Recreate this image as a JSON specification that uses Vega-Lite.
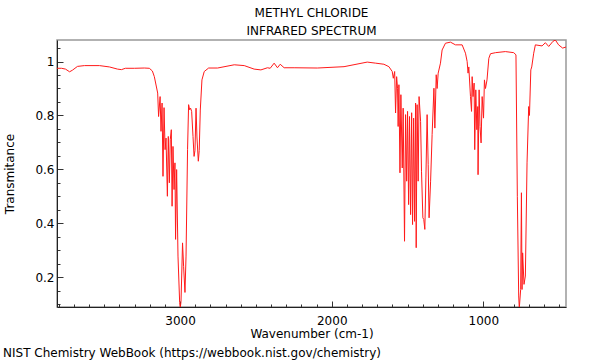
{
  "$schema": "https://vega.github.io/schema/vega-lite/v6.json",
  "width": 509,
  "height": 267,
  "autosize": {"type": "none"},
  "padding": {"left": 57, "top": 40, "right": 34, "bottom": 53},
  "background": "white",
  "config": {
    "font": "DejaVu Sans",
    "view": {"stroke": "#999999", "strokeWidth": 1.5}
  },
  "title": {
    "text": ["METHYL CHLORIDE", "INFRARED SPECTRUM"],
    "fontSize": 12,
    "fontWeight": "normal",
    "color": "black",
    "lineHeight": 18,
    "offset": 2,
    "anchor": "middle"
  },
  "layer": [
    {
      "data": {
        "values": [
          {"w": 3815, "t": 0.975}, {"w": 3782, "t": 0.975}, {"w": 3756, "t": 0.972}, {"w": 3729, "t": 0.962},
          {"w": 3710, "t": 0.968}, {"w": 3677, "t": 0.982}, {"w": 3631, "t": 0.985}, {"w": 3532, "t": 0.985},
          {"w": 3466, "t": 0.98}, {"w": 3413, "t": 0.972}, {"w": 3387, "t": 0.97}, {"w": 3361, "t": 0.975},
          {"w": 3301, "t": 0.975}, {"w": 3236, "t": 0.976}, {"w": 3203, "t": 0.975}, {"w": 3183, "t": 0.965},
          {"w": 3170, "t": 0.944}, {"w": 3148, "t": 0.883}, {"w": 3142, "t": 0.796}, {"w": 3132, "t": 0.87},
          {"w": 3126, "t": 0.741}, {"w": 3119, "t": 0.846}, {"w": 3113, "t": 0.574}, {"w": 3106, "t": 0.829},
          {"w": 3099, "t": 0.673}, {"w": 3093, "t": 0.716}, {"w": 3084, "t": 0.5}, {"w": 3078, "t": 0.722},
          {"w": 3071, "t": 0.55}, {"w": 3065, "t": 0.71}, {"w": 3058, "t": 0.747}, {"w": 3053, "t": 0.463},
          {"w": 3047, "t": 0.685}, {"w": 3040, "t": 0.525}, {"w": 3034, "t": 0.624}, {"w": 3030, "t": 0.34},
          {"w": 3023, "t": 0.599}, {"w": 3014, "t": 0.278}, {"w": 3003, "t": 0.105}, {"w": 2999, "t": 0.085},
          {"w": 2994, "t": 0.11}, {"w": 2984, "t": 0.327}, {"w": 2977, "t": 0.24}, {"w": 2968, "t": 0.143},
          {"w": 2961, "t": 0.278}, {"w": 2951, "t": 0.673}, {"w": 2944, "t": 0.84}, {"w": 2937, "t": 0.821},
          {"w": 2931, "t": 0.827}, {"w": 2924, "t": 0.815}, {"w": 2915, "t": 0.722}, {"w": 2908, "t": 0.648},
          {"w": 2902, "t": 0.67}, {"w": 2895, "t": 0.827}, {"w": 2889, "t": 0.72}, {"w": 2880, "t": 0.63},
          {"w": 2874, "t": 0.67}, {"w": 2867, "t": 0.82}, {"w": 2856, "t": 0.932}, {"w": 2841, "t": 0.963},
          {"w": 2812, "t": 0.976}, {"w": 2753, "t": 0.976}, {"w": 2643, "t": 0.988}, {"w": 2577, "t": 0.985},
          {"w": 2512, "t": 0.972}, {"w": 2467, "t": 0.969}, {"w": 2424, "t": 0.977}, {"w": 2406, "t": 0.975},
          {"w": 2380, "t": 0.994}, {"w": 2358, "t": 0.977}, {"w": 2340, "t": 0.99}, {"w": 2314, "t": 0.977},
          {"w": 2248, "t": 0.977}, {"w": 2095, "t": 0.976}, {"w": 1919, "t": 0.981}, {"w": 1766, "t": 0.998},
          {"w": 1710, "t": 0.994}, {"w": 1656, "t": 0.99}, {"w": 1623, "t": 0.981}, {"w": 1601, "t": 0.963},
          {"w": 1594, "t": 0.938}, {"w": 1585, "t": 0.963}, {"w": 1579, "t": 0.809}, {"w": 1572, "t": 0.944},
          {"w": 1566, "t": 0.901}, {"w": 1562, "t": 0.759}, {"w": 1557, "t": 0.914}, {"w": 1550, "t": 0.587},
          {"w": 1544, "t": 0.877}, {"w": 1535, "t": 0.605}, {"w": 1529, "t": 0.827}, {"w": 1520, "t": 0.333},
          {"w": 1513, "t": 0.803}, {"w": 1506, "t": 0.556}, {"w": 1500, "t": 0.815}, {"w": 1493, "t": 0.469},
          {"w": 1487, "t": 0.796}, {"w": 1480, "t": 0.432}, {"w": 1473, "t": 0.81}, {"w": 1467, "t": 0.395},
          {"w": 1460, "t": 0.79}, {"w": 1454, "t": 0.407}, {"w": 1447, "t": 0.846}, {"w": 1443, "t": 0.309},
          {"w": 1437, "t": 0.84}, {"w": 1430, "t": 0.556}, {"w": 1424, "t": 0.87}, {"w": 1414, "t": 0.778},
          {"w": 1408, "t": 0.593}, {"w": 1399, "t": 0.42}, {"w": 1393, "t": 0.414}, {"w": 1386, "t": 0.377},
          {"w": 1379, "t": 0.568}, {"w": 1371, "t": 0.803}, {"w": 1364, "t": 0.617}, {"w": 1358, "t": 0.42},
          {"w": 1348, "t": 0.556}, {"w": 1338, "t": 0.729}, {"w": 1326, "t": 0.901}, {"w": 1320, "t": 0.753},
          {"w": 1311, "t": 0.951}, {"w": 1305, "t": 0.9}, {"w": 1298, "t": 0.957}, {"w": 1283, "t": 0.994},
          {"w": 1272, "t": 1.043}, {"w": 1250, "t": 1.068}, {"w": 1217, "t": 1.072}, {"w": 1184, "t": 1.062},
          {"w": 1140, "t": 1.062}, {"w": 1118, "t": 1.031}, {"w": 1107, "t": 1.0}, {"w": 1101, "t": 0.957},
          {"w": 1096, "t": 0.98}, {"w": 1085, "t": 0.87}, {"w": 1078, "t": 0.815}, {"w": 1074, "t": 0.944},
          {"w": 1068, "t": 0.87}, {"w": 1061, "t": 0.92}, {"w": 1057, "t": 0.673}, {"w": 1050, "t": 0.895},
          {"w": 1043, "t": 0.747}, {"w": 1037, "t": 0.833}, {"w": 1035, "t": 0.58}, {"w": 1028, "t": 0.895},
          {"w": 1022, "t": 0.759}, {"w": 1015, "t": 0.698}, {"w": 1008, "t": 0.87}, {"w": 999, "t": 0.79},
          {"w": 993, "t": 0.932}, {"w": 986, "t": 0.9}, {"w": 976, "t": 0.932}, {"w": 964, "t": 1.012},
          {"w": 953, "t": 1.029}, {"w": 920, "t": 1.033}, {"w": 855, "t": 1.037}, {"w": 800, "t": 1.033},
          {"w": 785, "t": 1.025}, {"w": 776, "t": 0.5}, {"w": 767, "t": 0.13}, {"w": 763, "t": 0.085},
          {"w": 754, "t": 0.154}, {"w": 749, "t": 0.513}, {"w": 745, "t": 0.154}, {"w": 741, "t": 0.29},
          {"w": 732, "t": 0.173}, {"w": 723, "t": 0.204}, {"w": 712, "t": 0.624}, {"w": 701, "t": 0.833},
          {"w": 696, "t": 0.8}, {"w": 687, "t": 0.969}, {"w": 681, "t": 0.98}, {"w": 668, "t": 1.031},
          {"w": 657, "t": 1.062}, {"w": 613, "t": 1.058}, {"w": 591, "t": 1.07}, {"w": 569, "t": 1.056},
          {"w": 541, "t": 1.075}, {"w": 525, "t": 1.08}, {"w": 504, "t": 1.062}, {"w": 477, "t": 1.05},
          {"w": 455, "t": 1.054}
        ]
      },
      "mark": {"type": "line", "color": "#ff1a1a", "strokeWidth": 1, "clip": true},
      "encoding": {
        "x": {
          "field": "w",
          "type": "quantitative",
          "sort": null,
          "scale": {"domain": [455, 3812], "reverse": true, "nice": false, "zero": false},
          "axis": {
            "title": "Wavenumber (cm-1)",
            "titleFontSize": 12,
            "titleFontWeight": "normal",
            "titleColor": "black",
            "titlePadding": 2,
            "labelFontSize": 12,
            "labelColor": "black",
            "values": [500, 600, 700, 800, 900, 1000, 1100, 1200, 1300, 1400, 1500, 1600, 1700, 1800, 1900, 2000, 2100, 2200, 2300, 2400, 2500, 2600, 2700, 2800, 2900, 3000, 3100, 3200, 3300, 3400, 3500, 3600, 3700, 3800],
            "labelExpr": "datum.value % 1000 === 0 ? format(datum.value, 'd') : ''",
            "tickSize": {"condition": {"test": "datum.value % 1000 === 0", "value": -6}, "value": -3},
            "tickColor": "#333333",
            "domainColor": "#222222",
            "labelPadding": 14,
            "grid": false
          }
        },
        "y": {
          "field": "t",
          "type": "quantitative",
          "scale": {"domain": [0.089, 1.08], "nice": false, "zero": false},
          "axis": {
            "title": "Transmitance",
            "titleFontSize": 12,
            "titleFontWeight": "normal",
            "titleColor": "black",
            "titlePadding": 18,
            "labelFontSize": 12,
            "labelColor": "black",
            "values": [0.1, 0.15, 0.2, 0.25, 0.3, 0.35, 0.4, 0.45, 0.5, 0.55, 0.6, 0.65, 0.7, 0.75, 0.8, 0.85, 0.9, 0.95, 1, 1.05],
            "labelExpr": "abs(datum.value * 5 - round(datum.value * 5)) < 0.001 ? format(datum.value, '~g') : ''",
            "tickSize": {"condition": {"test": "abs(datum.value * 5 - round(datum.value * 5)) < 0.001", "value": -6}, "value": -3},
            "tickColor": "#333333",
            "domainColor": "#222222",
            "labelPadding": 9,
            "grid": false
          }
        }
      }
    },
    {
      "data": {"values": [{"note": "NIST Chemistry WebBook (https://webbook.nist.gov/chemistry)"}]},
      "mark": {"type": "text", "align": "left", "baseline": "alphabetic", "fontSize": 12, "color": "black", "x": -54, "y": 317, "clip": false},
      "encoding": {"text": {"field": "note"}}
    }
  ]
}
